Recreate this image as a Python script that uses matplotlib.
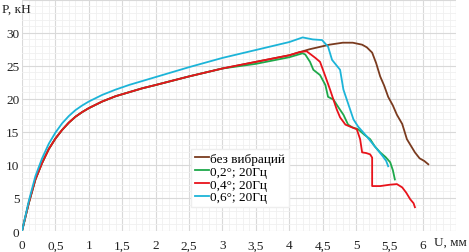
import matplotlib.pyplot as plt
import numpy as np
from matplotlib.ticker import MultipleLocator, FuncFormatter

plt.rcParams['font.family'] = ['Liberation Serif', 'DejaVu Serif']

# U, mm / P, kN
u_base = [0, 0.1, 0.2, 0.3, 0.4, 0.5, 0.6, 0.7, 0.8, 0.9, 1.0, 1.2, 1.4, 1.6,
          1.8, 2.0, 2.5, 3.0, 3.5, 4.0]
p_base = [0, 4.2, 7.8, 10.3, 12.4, 14.0, 15.3, 16.4, 17.3, 18.0, 18.6, 19.6,
          20.4, 21.0, 21.6, 22.1, 23.4, 24.6, 25.6, 26.6]

u_brown = u_base + [4.3, 4.6, 4.8, 4.95, 5.09, 5.16, 5.24, 5.3, 5.36, 5.42,
                    5.48, 5.55, 5.61, 5.69, 5.76, 5.82, 5.88, 5.95, 6.02, 6.08]
p_brown = p_base + [27.5, 28.2, 28.5, 28.5, 28.2, 27.8, 27.0, 25.4, 23.4, 22.0,
                    20.3, 19.0, 17.6, 16.2, 13.9, 12.9, 11.9, 11.0, 10.6, 10.1]

u_green = u_base[:-2] + [3.5, 4.0, 4.2, 4.24, 4.31, 4.36, 4.46, 4.54, 4.58,
                         4.66, 4.73, 4.81, 4.88, 4.94, 5.03, 5.12, 5.21, 5.28,
                         5.36, 5.44, 5.51, 5.55, 5.58]
p_green = p_base[:-2] + [25.3, 26.3, 26.9, 26.7, 25.6, 24.4, 23.6, 22.1, 20.3,
                         19.9, 18.8, 17.6, 16.1, 15.7, 15.4, 14.6, 13.9, 12.8,
                         11.9, 11.2, 10.4, 9.2, 7.8]

u_red = u_base + [4.16, 4.26, 4.39, 4.46, 4.54, 4.61, 4.66, 4.71, 4.76, 4.84,
                  4.91, 5.01, 5.06, 5.09, 5.15, 5.21, 5.24, 5.24, 5.36, 5.5,
                  5.61, 5.69, 5.75, 5.81, 5.86, 5.88]
p_red = p_base + [27.1, 27.2, 26.2, 25.6, 23.4, 21.4, 19.9, 18.4, 17.2, 16.1,
                  15.8, 15.4, 13.9, 11.9, 11.8, 11.6, 11.1, 6.8, 6.8, 7.0,
                  7.1, 6.6, 5.8, 4.8, 4.2, 3.6]

u_cyan = [0, 0.1, 0.2, 0.3, 0.4, 0.5, 0.6, 0.7, 0.8, 0.9, 1.0, 1.2, 1.4, 1.6,
          1.8, 2.0, 2.5, 3.0, 3.5, 4.0, 4.2, 4.35, 4.49, 4.58, 4.64, 4.76,
          4.81, 4.86, 4.91, 4.96, 5.03, 5.1, 5.16, 5.28, 5.4, 5.45, 5.48]
p_cyan = [0, 4.5, 8.3, 11.0, 13.2, 14.9, 16.3, 17.4, 18.3, 19.0, 19.6, 20.6,
          21.4, 22.1, 22.7, 23.3, 24.8, 26.2, 27.4, 28.6, 29.3, 29.0, 28.9,
          27.9, 25.9, 24.4, 21.4, 19.9, 18.4, 16.9, 15.8, 15.0, 14.3, 12.8,
          11.3, 10.6, 9.8]

labels = ['без вибраций', '0,2°; 20Гц', '0,4°; 20Гц', '0,6°; 20Гц']
colors = ['#7a3b1f', '#1ea84a', '#e8131b', '#1cb4d8']

fig = plt.figure(figsize=(4.69, 2.53), dpi=100)
ax = fig.add_axes([0.047, 0.083, 0.926, 0.914])

series = [(u_brown, p_brown), (u_green, p_green), (u_red, p_red), (u_cyan, p_cyan)]
for (u, p), lab, c in zip(series, labels, colors):
    ax.plot(u, p, color=c, lw=1.3, label=lab)

ax.set_xlim(0, 6.5)
ax.set_ylim(0, 35)
ax.xaxis.set_major_locator(MultipleLocator(0.5))
ax.yaxis.set_major_locator(MultipleLocator(5))
ax.xaxis.set_minor_locator(MultipleLocator(0.1))
ax.yaxis.set_minor_locator(MultipleLocator(1))


def fmt_x(v, pos):
    if v > 6.25:
        return ''
    return ('%g' % v).replace('.', ',')


def fmt_y(v, pos):
    if v > 32:
        return ''
    return '%g' % v


ax.xaxis.set_major_formatter(FuncFormatter(fmt_x))
ax.yaxis.set_major_formatter(FuncFormatter(fmt_y))
ax.grid(which='major', color='#d9d9d9', lw=0.8)
ax.grid(which='minor', color='#f0f0f0', lw=0.6)
ax.set_axisbelow(True)
for s in ax.spines.values():
    s.set_visible(False)
ax.tick_params(which='both', length=0, labelsize=9.5, colors='#222222')
ax.tick_params(axis='x', pad=6)
ax.tick_params(axis='y', pad=2)

fig.text(0.005, 0.985, 'P, кН', fontsize=9.5, va='top', ha='left', color='#222222')
fig.text(0.996, 0.03, 'U, мм', fontsize=9.5, va='baseline', ha='right', color='#222222')

ax.legend(loc='lower left', bbox_to_anchor=(0.39, 0.102), fontsize=9.5,
          handlelength=1.0, handletextpad=0.1, labelspacing=0.05,
          borderpad=0.3, borderaxespad=0, frameon=True, fancybox=False,
          edgecolor='#eeeeee', framealpha=1)

fig.savefig('out.png', dpi=100)
